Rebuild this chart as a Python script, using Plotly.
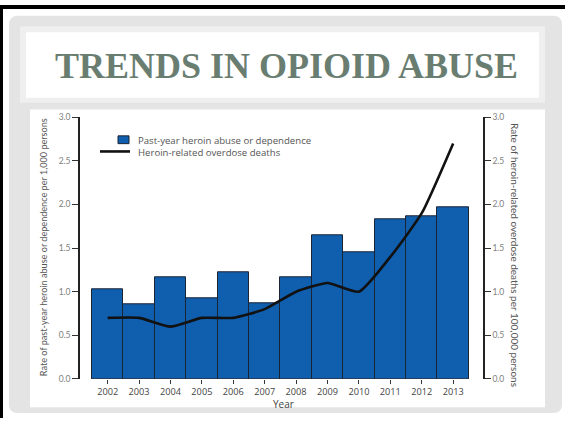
import plotly.graph_objects as go

# ---- data ----
years = [2002, 2003, 2004, 2005, 2006, 2007, 2008, 2009, 2010, 2011, 2012, 2013]
abuse_rate = [1.03, 0.86, 1.16, 0.93, 1.22, 0.87, 1.17, 1.65, 1.45, 1.83, 1.87, 1.97]
death_rate = [0.7, 0.7, 0.6, 0.7, 0.7, 0.8, 1.0, 1.1, 1.0, 1.4, 1.9, 2.7]
y_ticks = [0.0, 0.5, 1.0, 1.5, 2.0, 2.5, 3.0]
legend_labels = ["Past-year heroin abuse or dependence", "Heroin-related overdose deaths"]

W, H = 565, 423
def px(x):
    return x / W
def py(y):
    return 1 - y / H

BLUE = "#105fae"
EDGE = "#1b2433"
TXT = "#555555"
TICK = "#808080"
SANS = "Lato, 'Open Sans', sans-serif"
OPEN = "'Open Sans', Lato, sans-serif"

fig = go.Figure()
fig.add_trace(go.Bar(
    x=years, y=abuse_rate, width=1.0,
    marker=dict(color=BLUE, line=dict(color=EDGE, width=1)),
    name=legend_labels[0], yaxis="y", showlegend=False,
))
fig.add_trace(go.Scatter(
    x=years, y=death_rate, mode="lines",
    line=dict(color="#111111", width=2.6, shape="spline", smoothing=0.5),
    name=legend_labels[1], yaxis="y2", showlegend=False,
))

def rrect(x0, y0, x1, y1, r):
    X0, X1 = px(x0), px(x1)
    Y0, Y1 = py(y0), py(y1)
    rx, ry = r / W, r / H
    return (f"M {X0+rx},{Y0} L {X1-rx},{Y0} Q {X1},{Y0} {X1},{Y0-ry} "
            f"L {X1},{Y1+ry} Q {X1},{Y1} {X1-rx},{Y1} L {X0+rx},{Y1} "
            f"Q {X0},{Y1} {X0},{Y1+ry} L {X0},{Y0-ry} Q {X0},{Y0} {X0+rx},{Y0} Z")

def rect(x0, y0, x1, y1, color):
    return dict(type="rect", xref="paper", yref="paper", layer="below",
                x0=px(x0), x1=px(x1), y0=py(y1), y1=py(y0),
                fillcolor=color, line=dict(width=0))

shapes = [
    rect(0, 0, 565, 4, "#000000"),
    rect(0, 0, 3, 423, "#000000"),
    dict(type="path", xref="paper", yref="paper", layer="below",
         path=rrect(9, 11, 562, 418, 9), fillcolor="#e4e4e4", line=dict(width=0)),
    rect(20, 22, 545, 100, "#efefef"),
    rect(26, 28, 539, 95, "#ffffff"),
    rect(30, 107, 545, 412, "#ffffff"),
    # legend swatches
    dict(type="rect", xref="paper", yref="paper", layer="above",
         x0=px(118), x1=px(129), y0=py(142), y1=py(134),
         fillcolor=BLUE, line=dict(color=EDGE, width=1)),
    dict(type="line", xref="paper", yref="paper", layer="above",
         x0=px(100), x1=px(130), y0=py(150), y1=py(150),
         line=dict(color="#111111", width=2.6)),
]

annotations = [
    dict(text="<b>TRENDS IN OPIOID ABUSE</b>", xref="paper", yref="paper",
         x=px(286), y=py(62), xanchor="center", yanchor="middle", showarrow=False,
         font=dict(family="'Liberation Serif', serif", size=36, color="#6a7d71")),
    dict(text="<br>".join(legend_labels), xref="paper", yref="paper",
         x=px(136), y=py(144.5), xanchor="left", yanchor="middle", align="left",
         showarrow=False, font=dict(family=OPEN, size=9.6, color=TXT)),
    dict(text="Rate of past-year heroin abuse or dependence per 1,000 persons",
         xref="paper", yref="paper", x=px(43), y=py(248), textangle=-90,
         xanchor="center", yanchor="middle", showarrow=False,
         font=dict(family=SANS, size=9.1, color=TXT)),
    dict(text="Rate of heroin-related overdose deaths per 100,000 persons",
         xref="paper", yref="paper", x=px(515), y=py(256), textangle=90,
         xanchor="center", yanchor="middle", showarrow=False,
         font=dict(family=SANS, size=10, color=TXT)),
    dict(text="Year", xref="paper", yref="paper", x=px(283), y=py(409),
         xanchor="center", yanchor="middle", showarrow=False,
         font=dict(family=OPEN, size=10, color="#444444")),
]

axis_y = dict(range=[0, 3], tickvals=y_ticks, tickformat=".1f",
              showline=True, linecolor="#222222", linewidth=1.5,
              ticks="outside", ticklen=6, tickcolor="#333333", tickwidth=1,
              showgrid=False, zeroline=False,
              tickfont=dict(family=SANS, size=8.5, color=TICK))

fig.update_layout(
    width=W, height=H,
    margin=dict(l=0, r=0, t=0, b=0),
    paper_bgcolor="#ffffff", plot_bgcolor="rgba(0,0,0,0)",
    bargap=0,
    xaxis=dict(domain=[px(80), px(483)], range=[2001.12, 2013.95],
               tickvals=years, ticktext=[str(y) for y in years],
               ticks="outside", ticklen=4, tickcolor="#333333",
               showline=False, showgrid=False, zeroline=False,
               tickfont=dict(family=OPEN, size=9.2, color="#444444")),
    yaxis=dict(domain=[py(383), py(115)], side="left", anchor="x", **axis_y),
    yaxis2=dict(overlaying="y", side="right", anchor="x", **axis_y),
    shapes=shapes,
    annotations=annotations,
    showlegend=False,
)

fig.write_html(
    "out.html",
    config={"displayModeBar": False},
    post_script="document.body.style.margin='0';document.body.style.padding='0';"
                "document.body.style.overflow='hidden';",
)
